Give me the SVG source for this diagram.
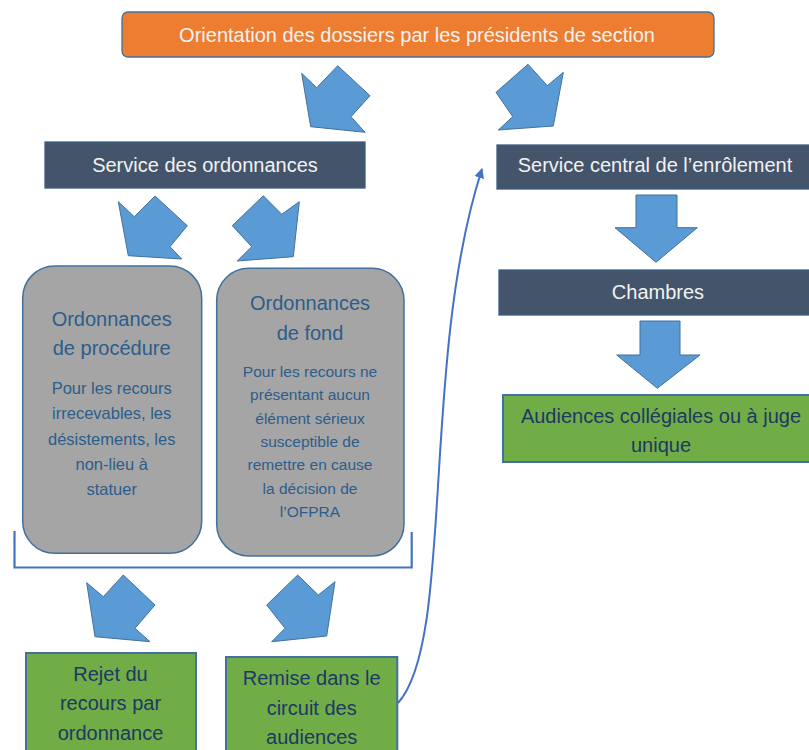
<svg xmlns="http://www.w3.org/2000/svg" width="809" height="750" viewBox="0 0 809 750">
<defs>
<style>
text{font-family:"Liberation Sans",Arial,sans-serif;text-anchor:middle}
.orange{fill:#ed7d31;stroke:#41719c;stroke-width:1.3}
.dark{fill:#44546a;stroke:#3a5f86;stroke-width:1.3}
.green{fill:#70ad47;stroke:#41719c;stroke-width:2}
.gray{fill:#a5a5a5;stroke:#41719c;stroke-width:1.5}
.blk{fill:#5b9bd5;stroke:#41719c;stroke-width:1}
.wt{fill:#f2f2f2;font-size:20px}
.gt{fill:#203864;font-size:20px}
.tt{fill:#2c5d8c;font-size:20px}
.bt{fill:#2c5d8c}
.line{fill:none;stroke:#4472c4;stroke-width:2}
</style>
<marker id="ah" viewBox="0 0 10 10" refX="9" refY="5" markerWidth="5" markerHeight="5" orient="auto" markerUnits="strokeWidth">
<path d="M0,0 L10,5 L0,10 Z" fill="#4472c4"/>
</marker>
</defs>
<rect width="809" height="750" fill="#ffffff"/>

<g id="connectors">
<polygon class="blk" points="301.7,73.3 316.7,87.7 337.7,65.7 370,95.7 351,116.7 365,132.3 310.7,126.7"/>
<polygon class="blk" points="528,64.3 547.3,85.7 563.3,72.3 553.3,126 498.3,130 512.7,116.7 496,92.3"/>
<polygon class="blk" points="118.3,201.7 134.3,216.7 155,196 187.3,225.7 170,246.7 181.7,259 128.3,255.7"/>
<polygon class="blk" points="263.3,195.7 281.7,214.3 299.3,201.7 293.3,256.7 237.3,261 251.7,246.7 232.3,225.7"/>
<polygon class="blk" points="86.7,582.7 103.3,596.7 123.3,575 155,605 135,628.3 150,641.7 95,636.7"/>
<polygon class="blk" points="297.7,575 318.3,595 335,581.7 326.7,636 271.7,641.7 285,628.3 266.7,605"/>
<polygon class="blk" points="636,195 677,195 677,227.7 697.3,227.7 656,262.3 615,227.7 636,227.7"/>
<polygon class="blk" points="640,321 680,321 680,355 700,355 657.3,388.3 616.7,355 640,355"/>
<path class="line" d="M398,703 C455,640 420,360 482,169" marker-end="url(#ah)"/>
</g>

<g id="brace">
<path d="M14.5,531 L14.5,567.5 L411.7,567.5 L411.7,532" fill="none" stroke="#4472c4" stroke-width="2.2"/>
</g>

<g id="orientation">
<rect class="orange" x="122" y="12" width="592" height="45" rx="6"/>
<text class="wt" x="417" y="41.5" fill="#ffffff">Orientation des dossiers par les présidents de section</text>
</g>

<g id="service-ordonnances">
<rect class="dark" x="45" y="142" width="320" height="46"/>
<text class="wt" x="205" y="171.5">Service des ordonnances</text>
</g>

<g id="service-central">
<rect class="dark" x="497" y="145" width="325" height="44"/>
<text class="wt" x="655" y="172">Service central de l’enrôlement</text>
</g>

<g id="chambres">
<rect class="dark" x="499" y="270" width="322" height="45"/>
<text class="wt" x="658" y="298.5">Chambres</text>
</g>

<g id="audiences">
<rect class="green" x="503" y="395" width="318" height="67"/>
<text class="gt" x="661" y="423">Audiences collégiales ou à juge</text>
<text class="gt" x="661" y="452">unique</text>
</g>

<g id="ordonnances-procedure">
<rect class="gray" x="22.7" y="266" width="179" height="287.3" rx="32"/>
<text class="tt" x="111.7" y="326">Ordonnances</text>
<text class="tt" x="111.7" y="355">de procédure</text>
<g class="bt" font-size="16.5">
<text x="111.7" y="393.5">Pour les recours</text>
<text x="111.7" y="419">irrecevables, les</text>
<text x="111.7" y="444.5">désistements, les</text>
<text x="111.7" y="470">non-lieu à</text>
<text x="111.7" y="495">statuer</text>
</g>
</g>

<g id="ordonnances-fond">
<rect class="gray" x="216.7" y="268.3" width="187.3" height="287.7" rx="32"/>
<text class="tt" x="310" y="310">Ordonnances</text>
<text class="tt" x="310" y="339.5">de fond</text>
<g class="bt" font-size="15.5">
<text x="310" y="377">Pour les recours ne</text>
<text x="310" y="400">présentant aucun</text>
<text x="310" y="423.5">élément sérieux</text>
<text x="310" y="447">susceptible de</text>
<text x="310" y="470">remettre en cause</text>
<text x="310" y="493.5">la décision de</text>
<text x="310" y="517">l’OFPRA</text>
</g>
</g>

<g id="rejet">
<rect class="green" x="26" y="653" width="170" height="110"/>
<text class="gt" x="110.5" y="681">Rejet du</text>
<text class="gt" x="110.5" y="710">recours par</text>
<text class="gt" x="110.5" y="739.5">ordonnance</text>
</g>

<g id="remise">
<rect class="green" x="226" y="657" width="171.3" height="106"/>
<text class="gt" x="311.7" y="685">Remise dans le</text>
<text class="gt" x="311.7" y="714.5">circuit des</text>
<text class="gt" x="311.7" y="743.5">audiences</text>
</g>
</svg>
